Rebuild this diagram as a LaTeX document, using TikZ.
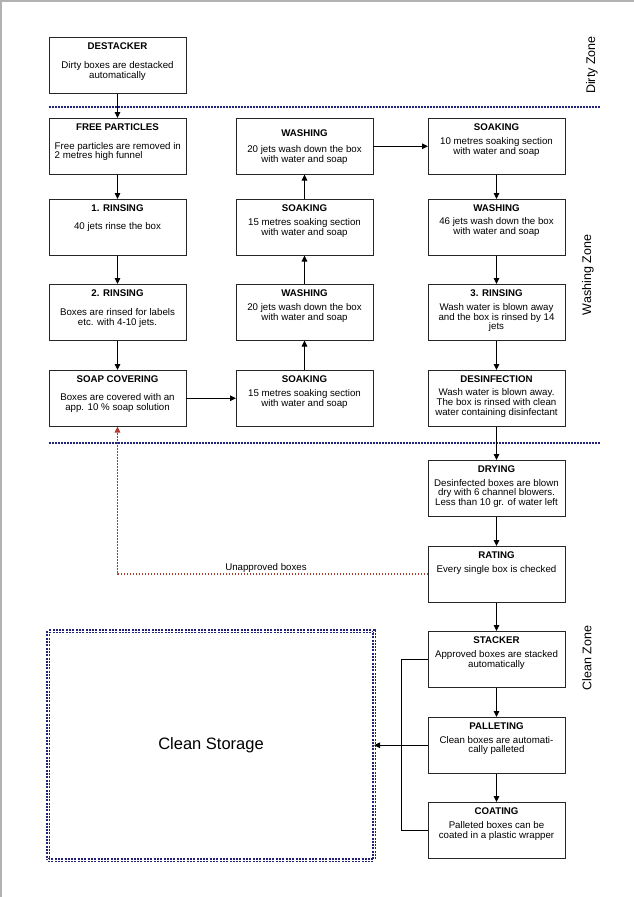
\documentclass[tikz,border=0pt]{standalone}
\usepackage{fontspec}
\setmainfont{Liberation Sans}
\usetikzlibrary{arrows.meta,calc}
\definecolor{navy}{HTML}{22227A}
\definecolor{dred}{HTML}{B0392E}
\newcommand\bodyfont{\fontsize{9.7}{9.8}\selectfont}
\newcommand\procbox[6]{%
  \node[procst, anchor=north west] (#1) at (#2,#3) {};
  \node[ttl] (#1t) at ($(#1.north)+(0,12)$) {#4};
  \node[bdy] (#1b) at ($(#1.north)+(0,#6-7.2)$) {#5};
}
\begin{document}
\begin{tikzpicture}[x=1pt,y=-1pt,
  procst/.style={draw=black!85, line width=1pt, minimum width=137pt, minimum height=56.5pt, inner sep=0pt, outer sep=0pt},
  ttl/.style={font=\bfseries\bodyfont, anchor=base, inner sep=0pt},
  bdy/.style={font=\bodyfont, align=center, anchor=north, inner sep=0pt, execute at begin node={\rule{0pt}{7.2pt}}},
  arr/.style={draw=black, line width=0.9pt, -{Triangle[length=6pt,width=5.5pt]}},
  conn/.style={draw=black, line width=0.9pt},
  redarr/.style={draw=dred, line width=1.6pt, dash pattern=on 1.5pt off 1.5pt, -{Triangle[length=6pt,width=5.5pt]}},
  zonesep/.style={draw=navy, line width=1.5pt, dash pattern=on 1.5pt off 1.5pt},
  zone/.style={font=\fontsize{12.5}{13}\selectfont, rotate=90, inner sep=0pt},
  storage/.style={draw=navy, double=white, double distance=0.9pt, line width=1.2pt, dash pattern=on 2pt off 1.3pt, inner sep=0pt, outer sep=0pt}
]
\useasboundingbox (0,0) rectangle (634,897);
\fill[white] (0,0) rectangle (634,897);
\draw[gray!60, line width=1.5pt] (0.75,897) -- (0.75,0.75) -- (634,0.75);

% zone separators
\coordinate (s1a) at (49,107); \coordinate (s1b) at (601,107);
\coordinate (s2a) at (49,443); \coordinate (s2b) at (601,443);
\draw[zonesep] (s1a) -- (s1b);
\draw[zonesep] (s2a) -- (s2b);

% zone labels
\node[zone] (zdirty) at (592,65) {Dirty Zone};
\node[zone] (zwash) at (588,275) {Washing Zone};
\node[zone] (zclean) at (587,658) {Clean Zone};

% left column
\procbox{destack}{49}{37}{DESTACKER}{Dirty boxes are destacked\\automatically}{31.3}
\node[procst, anchor=north west] (free) at (49,118) {};
\node[ttl] (freet) at ($(free.north)+(0,12)$) {FREE PARTICLES};
\node[bdy, align=left, anchor=north west] (freeb) at (54.5,118+31-7.2) {Free particles are removed in\\2 metres high funnel};
\procbox{rinse1}{49}{199}{1. RINSING}{40 jets rinse the box}{30.5}
\procbox{rinse2}{49}{284}{2. RINSING}{Boxes are rinsed for labels\\etc. with 4-10 jets.}{31.3}
\procbox{soap}{49}{370}{SOAP COVERING}{Boxes are covered with an\\app. 10 \% soap solution}{30.8}

% middle column
\node[procst, anchor=north west] (washm2) at (236,118) {};
\node[ttl] (washm2t) at ($(washm2.north)+(0,18.7)$) {WASHING};
\node[bdy] (washm2b) at ($(washm2.north)+(0,34.3-7.2)$) {20 jets wash down the box\\with water and soap};
\procbox{soakm2}{236}{199}{SOAKING}{15 metres soaking section\\with water and soap}{26.2}
\procbox{washm1}{236}{284}{WASHING}{20 jets wash down the box\\with water and soap}{26.7}
\procbox{soakm1}{236}{370}{SOAKING}{15 metres soaking section\\with water and soap}{26.2}

% right column
\procbox{soakr}{428}{118}{SOAKING}{10 metres soaking section\\with water and soap}{26.7}
\procbox{washr}{428}{199}{WASHING}{46 jets wash down the box\\with water and soap}{25.9}
\procbox{rinse3}{428}{284}{3. RINSING}{Wash water is blown away\\and the box is rinsed by 14\\jets}{26.3}
\procbox{desinf}{428}{370}{DESINFECTION}{Wash water is blown away.\\The box is rinsed with clean\\water containing disinfectant}{25.9}
\procbox{dry}{428}{460}{DRYING}{Desinfected boxes are blown\\dry with 6 channel blowers.\\Less than 10 gr. of water left}{26.1}
\procbox{rating}{428}{546}{RATING}{Every single box is checked}{26.2}
\procbox{stack}{428}{631}{STACKER}{Approved boxes are stacked\\automatically}{26.4}
\procbox{pall}{428}{717}{PALLETING}{Clean boxes are automati-\\cally palleted}{26.1}
\procbox{coat}{428}{802}{COATING}{Palleted boxes can be\\coated in a plastic wrapper}{26.4}

% clean storage
\node[storage, anchor=north west, minimum width=326pt, minimum height=229pt,
      font=\fontsize{16.5}{18}\selectfont] (storage) at (48,631) {Clean Storage};

% connectors
\draw[arr] (destack.south) -- (free.north);
\draw[arr] (free.south) -- (rinse1.north);
\draw[arr] (rinse1.south) -- (rinse2.north);
\draw[arr] (rinse2.south) -- (soap.north);
\draw[arr] (soap.east) -- (soakm1.west);
\draw[arr] (soakm1.north) -- (washm1.south);
\draw[arr] (washm1.north) -- (soakm2.south);
\draw[arr] (soakm2.north) -- (washm2.south);
\draw[arr] (washm2.east) -- (soakr.west);
\draw[arr] (soakr.south) -- (washr.north);
\draw[arr] (washr.south) -- (rinse3.north);
\draw[arr] (rinse3.south) -- (desinf.north);
\draw[arr] (desinf.south) -- (dry.north);
\draw[arr] (dry.south) -- (rating.north);
\draw[arr] (rating.south) -- (stack.north);
\draw[arr] (stack.south) -- (pall.north);
\draw[arr] (pall.south) -- (coat.north);
\draw[conn] (stack.west) -- ++(-27,0) |- (coat.west);
\draw[arr] (pall.west) -- (pall.west -| storage.east);
\draw[redarr] (rating.west) -| (soap.south);
\node[font=\bodyfont, anchor=base, inner sep=0pt] (unappr) at (266,570.5) {Unapproved boxes};
\end{tikzpicture}
\end{document}
